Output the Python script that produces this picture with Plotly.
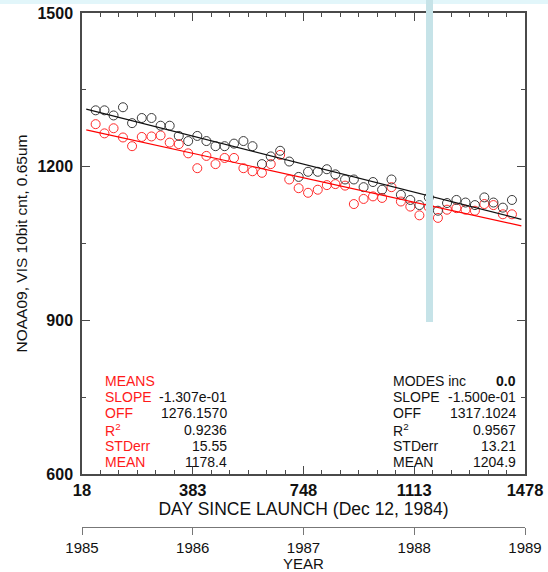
import plotly.graph_objects as go

# ---------------- data ----------------
DAYS = [63, 92, 122, 153, 183, 215, 247, 277, 307, 337, 368, 398, 428, 458, 488, 519,
        550, 580, 611, 640, 671, 701, 732, 763, 795, 825, 853, 885, 914, 946, 977, 1007,
        1038, 1069, 1100, 1130, 1161, 1191, 1221, 1252, 1282, 1313, 1344, 1374, 1405, 1435]
MODES = [1310, 1310, 1300, 1316, 1285, 1295, 1295, 1280, 1280, 1260, 1250, 1260, 1250, 1240,
         1240, 1245, 1250, 1240, 1205, 1220, 1231, 1210, 1180, 1190, 1190, 1195, 1185, 1175,
         1175, 1160, 1170, 1155, 1175, 1145, 1135, 1125, 1140, 1114, 1129, 1135, 1130, 1125,
         1140, 1130, 1120, 1135]
MEANS = [1283, 1265, 1275, 1257, 1240, 1258, 1259, 1261, 1247, 1244, 1226, 1197, 1221, 1205,
         1217, 1217, 1197, 1191, 1188, 1205, 1223, 1175, 1158, 1149, 1155, 1164, 1166, 1163,
         1127, 1137, 1142, 1139, 1160, 1132, 1122, 1105, 1121, 1100, 1116, 1119, 1116, 1114,
         1127, 1125, 1107, 1107]

FIT_DAYS = [32, 1466]
MEANS_SLOPE, MEANS_OFF = -1.307e-01, 1276.1570
MODES_SLOPE, MODES_OFF = -1.500e-01, 1317.1024

DAY_TICKS = [18, 383, 748, 1113, 1478]
Y_TICKS = [600, 900, 1200, 1500]
YEARS = [1985, 1986, 1987, 1988, 1989]

LEFT_LABELS = ["MEANS", "SLOPE", "OFF", "R<sup>2</sup>", "STDerr", "MEAN"]
LEFT_VALUES = ["", "-1.307e-01", "1276.1570", "0.9236", "15.55", "1178.4"]
RIGHT_LABELS = ["MODES inc", "SLOPE", "OFF", "R<sup>2</sup>", "STDerr", "MEAN"]
RIGHT_VALUES = ["<b>0.0</b>", "-1.500e-01", "1317.1024", "0.9567", "13.21", "1204.9"]

# ---------------- layout geometry ----------------
W, H = 548, 572
ML, MR, MT, MB = 82, 23, 13, 45
PW, PH = W - ML - MR, H - MT - MB
PLOT_BOTTOM = 474


def px(x):
    return (x - ML) / PW


def py(y):
    return (H - MB - y) / PH


FONT = "Liberation Sans, Arial, Helvetica, sans-serif"
AX = "#4a4a4a"

fig = go.Figure()

fig.add_trace(go.Scatter(x=DAYS, y=MEANS, mode="markers",
                         marker=dict(symbol="circle-open", size=9, color="#ff2a2a",
                                     line=dict(width=1, color="#ff2a2a")),
                         showlegend=False, hoverinfo="skip"))
fig.add_trace(go.Scatter(x=DAYS, y=MODES, mode="markers",
                         marker=dict(symbol="circle-open", size=9, color="#3a3a3a",
                                     line=dict(width=1, color="#3a3a3a")),
                         showlegend=False, hoverinfo="skip"))
fig.add_trace(go.Scatter(x=FIT_DAYS, y=[MEANS_OFF + MEANS_SLOPE * d for d in FIT_DAYS],
                         mode="lines", line=dict(color="#ff0000", width=1.2),
                         showlegend=False, hoverinfo="skip"))
fig.add_trace(go.Scatter(x=FIT_DAYS, y=[MODES_OFF + MODES_SLOPE * d for d in FIT_DAYS],
                         mode="lines", line=dict(color="#111111", width=1.2),
                         showlegend=False, hoverinfo="skip"))
# carrier for the year axis
fig.add_trace(go.Scatter(x=YEARS, y=[None] * len(YEARS), xaxis="x2", yaxis="y",
                         mode="markers", showlegend=False, hoverinfo="skip"))

annotations = []
row_y = [381, 397, 413, 429.5, 445.5, 461.5]
for i, yy in enumerate(row_y):
    annotations.append(dict(x=px(103), y=py(yy), xref="paper", yref="paper",
                            text=LEFT_LABELS[i], showarrow=False, xanchor="left",
                            yanchor="middle", font=dict(color="#ff1a1a", size=14, family=FONT)))
    if LEFT_VALUES[i]:
        annotations.append(dict(x=px(229), y=py(yy), xref="paper", yref="paper",
                                text=LEFT_VALUES[i], showarrow=False, xanchor="right",
                                yanchor="middle", font=dict(color="#111111", size=14, family=FONT)))
    annotations.append(dict(x=px(391), y=py(yy), xref="paper", yref="paper",
                            text=RIGHT_LABELS[i], showarrow=False, xanchor="left",
                            yanchor="middle", font=dict(color="#111111", size=14, family=FONT)))
    annotations.append(dict(x=px(518), y=py(yy), xref="paper", yref="paper",
                            text=RIGHT_VALUES[i], showarrow=False, xanchor="right",
                            yanchor="middle", font=dict(color="#111111", size=14, family=FONT)))

shapes = [
    dict(type="rect", xref="paper", yref="paper", x0=px(0), x1=px(W), y0=py(4), y1=py(0),
         fillcolor="#e2f6fa", line=dict(width=0), layer="above"),
    dict(type="rect", xref="paper", yref="paper", x0=px(426), x1=px(433), y0=py(322), y1=py(0),
         fillcolor="#c6e3e8", line=dict(width=0), layer="above"),
]

fig.update_layout(
    width=W, height=H,
    margin=dict(l=ML, r=MR, t=MT, b=MB, pad=0),
    paper_bgcolor="white", plot_bgcolor="white",
    font=dict(family=FONT, color="#111111"),
    showlegend=False,
    xaxis=dict(
        range=[18, 1478], domain=[0, 1], anchor="y",
        tickmode="array", tickvals=DAY_TICKS, ticktext=[str(t) for t in DAY_TICKS],
        ticks="inside", ticklen=8, tickwidth=1, tickcolor=AX,
        minor=dict(tick0=18, dtick=365 / 6, ticks="inside", ticklen=4, tickwidth=1, tickcolor=AX),
        showline=True, linecolor=AX, linewidth=1.5, mirror="ticks",
        showgrid=False, zeroline=False,
        tickfont=dict(size=16.5, family=FONT, weight="bold", color="#111111"),
        ticklabelstandoff=0,
        title=dict(text="DAY SINCE LAUNCH (Dec 12, 1984)", font=dict(size=17.5, family=FONT),
                   standoff=0),
        automargin=False,
    ),
    xaxis2=dict(
        range=[1985, 1989], overlaying="x", anchor="free", position=0, side="bottom",
        tickmode="array", tickvals=YEARS, ticktext=[str(y) for y in YEARS],
        ticks="outside", ticklen=7, tickwidth=1, tickcolor="#777777",
        showline=True, linecolor="#777777", linewidth=1,
        showgrid=False, zeroline=False,
        tickfont=dict(size=15, family=FONT, color="#111111"),
        ticklabelstandoff=0,
        title=dict(text="YEAR", font=dict(size=15, family=FONT), standoff=2),
        automargin=False,
    ),
    yaxis=dict(
        range=[600, 1500], domain=[py(PLOT_BOTTOM), 1],
        tickmode="array", tickvals=Y_TICKS, ticktext=[str(t) for t in Y_TICKS],
        ticks="inside", ticklen=8, tickwidth=1, tickcolor=AX,
        minor=dict(tick0=600, dtick=150, ticks="inside", ticklen=4, tickwidth=1, tickcolor=AX),
        showline=True, linecolor=AX, linewidth=1.5, mirror="ticks",
        showgrid=False, zeroline=False,
        tickfont=dict(size=16, family=FONT, weight="bold", color="#111111"),
        ticklabelstandoff=4,
        title=dict(text="NOAA09, VIS 10bit cnt, 0.65um", font=dict(size=15.5, family=FONT),
                   standoff=6),
        automargin=False,
    ),
    annotations=annotations,
    shapes=shapes,
)

fig.write_html("out.html")
